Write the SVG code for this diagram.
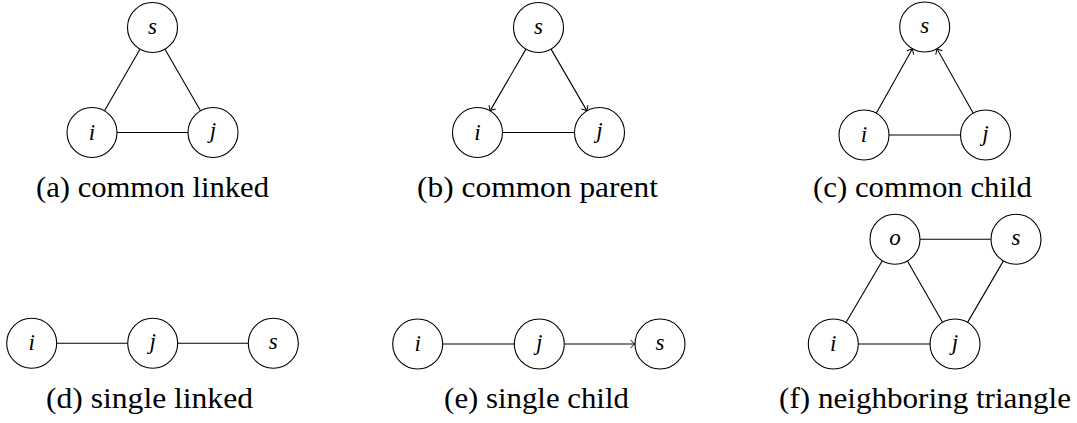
<svg xmlns="http://www.w3.org/2000/svg" width="1077" height="423" viewBox="0 0 1077 423">
  <style>
    .node circle { fill: #fff; stroke: #000; stroke-width: 1.1; }
    .node text { font-family: "Liberation Serif", serif; font-style: italic; font-size: 23px; text-anchor: middle; fill: #000; }
    #edges line { stroke: #000; stroke-width: 1.1; fill: none; }
    .cap { font-family: "Liberation Serif", serif; font-size: 29px; text-anchor: middle; fill: #000; }
  </style>
  <defs>
    <!-- open curved arrow tip -->
    <marker id="to" viewBox="-6 -5 8 10" refX="0" refY="0" markerWidth="8" markerHeight="10" markerUnits="userSpaceOnUse" orient="auto">
      <path d="M-4.2,-3.6 Q-1.2,-0.9 0,0 Q-1.2,0.9 -4.2,3.6" fill="none" stroke="#000" stroke-width="1" stroke-linecap="round"/>
    </marker>
  </defs>
  <rect width="1077" height="423" fill="#fff"/>

  <!-- connectors -->
  <g id="edges">
    <!-- (a) common linked -->
    <line x1="140" y1="49.15" x2="104.5" y2="110.85"/>
    <line x1="165" y1="49.15" x2="200.5" y2="110.85"/>
    <line x1="117" y1="132.5" x2="188" y2="132.5"/>
    <!-- (b) common parent -->
    <line x1="525.94" y1="49.12" x2="490.06" y2="110.88" marker-end="url(#to)"/>
    <line x1="551.06" y1="49.12" x2="586.94" y2="110.88" marker-end="url(#to)"/>
    <line x1="502.5" y1="132.5" x2="574.5" y2="132.5"/>
    <!-- (c) common child -->
    <line x1="876.25" y1="113.21" x2="912.45" y2="48.79" marker-end="url(#to)"/>
    <line x1="973.25" y1="113.21" x2="936.95" y2="48.79" marker-end="url(#to)"/>
    <line x1="889" y1="135" x2="960.5" y2="135"/>
    <!-- (d) single linked -->
    <line x1="56.7" y1="343.3" x2="127.7" y2="343.3"/>
    <line x1="177.7" y1="343.3" x2="248.3" y2="343.3"/>
    <!-- (e) single child -->
    <line x1="442.7" y1="344" x2="514.3" y2="344"/>
    <line x1="564.3" y1="344" x2="635" y2="344" marker-end="url(#to)"/>
    <!-- (f) neighboring triangle -->
    <line x1="920" y1="239.3" x2="991" y2="239.3"/>
    <line x1="858.3" y1="344" x2="930" y2="344"/>
    <line x1="882.3" y1="260.84" x2="846" y2="322.46"/>
    <line x1="907.43" y1="260.99" x2="942.57" y2="322.31"/>
    <line x1="1003.41" y1="260.9" x2="967.59" y2="322.4"/>
  </g>

  <!-- (a) common linked -->
  <g id="a-s" class="node"><circle cx="152.5" cy="27.5" r="25"/><text x="152.5" y="33.5">s</text></g>
  <g id="a-i" class="node"><circle cx="92" cy="132.5" r="25"/><text x="92" y="139.5">i</text></g>
  <g id="a-j" class="node"><circle cx="213" cy="132.5" r="25"/><text x="213" y="138">j</text></g>
  <text class="cap" transform="translate(152.5 196.5) scale(1.056 1)">(a) common linked</text>

  <!-- (b) common parent -->
  <g id="b-s" class="node"><circle cx="538.5" cy="27.5" r="25"/><text x="538.5" y="33.5">s</text></g>
  <g id="b-i" class="node"><circle cx="477.5" cy="132.5" r="25"/><text x="477.5" y="139.5">i</text></g>
  <g id="b-j" class="node"><circle cx="599.5" cy="132.5" r="25"/><text x="599.5" y="138">j</text></g>
  <text class="cap" transform="translate(537.5 196.5) scale(1.084 1)">(b) common parent</text>

  <!-- (c) common child -->
  <g id="c-s" class="node"><circle cx="924.7" cy="27" r="25"/><text x="924.7" y="33">s</text></g>
  <g id="c-i" class="node"><circle cx="864" cy="135" r="25"/><text x="864" y="142">i</text></g>
  <g id="c-j" class="node"><circle cx="985.5" cy="135" r="25"/><text x="985.5" y="140.5">j</text></g>
  <text class="cap" transform="translate(922.5 196.5) scale(1.062 1)">(c) common child</text>

  <!-- (d) single linked -->
  <g id="d-i" class="node"><circle cx="31.7" cy="343.3" r="25"/><text x="31.7" y="350.3">i</text></g>
  <g id="d-j" class="node"><circle cx="152.7" cy="343.3" r="25"/><text x="152.7" y="348.8">j</text></g>
  <g id="d-s" class="node"><circle cx="273.3" cy="343.3" r="25"/><text x="273.3" y="349.3">s</text></g>
  <text class="cap" transform="translate(149.5 408) scale(1.089 1)">(d) single linked</text>

  <!-- (e) single child -->
  <g id="e-i" class="node"><circle cx="417.7" cy="344" r="25"/><text x="417.7" y="351">i</text></g>
  <g id="e-j" class="node"><circle cx="539.3" cy="344" r="25"/><text x="539.3" y="349.5">j</text></g>
  <g id="e-s" class="node"><circle cx="660" cy="344" r="25"/><text x="660" y="350">s</text></g>
  <text class="cap" transform="translate(536.5 408) scale(1.063 1)">(e) single child</text>

  <!-- (f) neighboring triangle -->
  <g id="f-o" class="node"><circle cx="895" cy="239.3" r="25"/><text x="895" y="245.3">o</text></g>
  <g id="f-s" class="node"><circle cx="1016" cy="239.3" r="25"/><text x="1016" y="245.3">s</text></g>
  <g id="f-i" class="node"><circle cx="833.3" cy="344" r="25"/><text x="833.3" y="351">i</text></g>
  <g id="f-j" class="node"><circle cx="955" cy="344" r="25"/><text x="955" y="349.5">j</text></g>
  <text class="cap" transform="translate(925 408) scale(1.073 1)">(f) neighboring triangle</text>
</svg>
